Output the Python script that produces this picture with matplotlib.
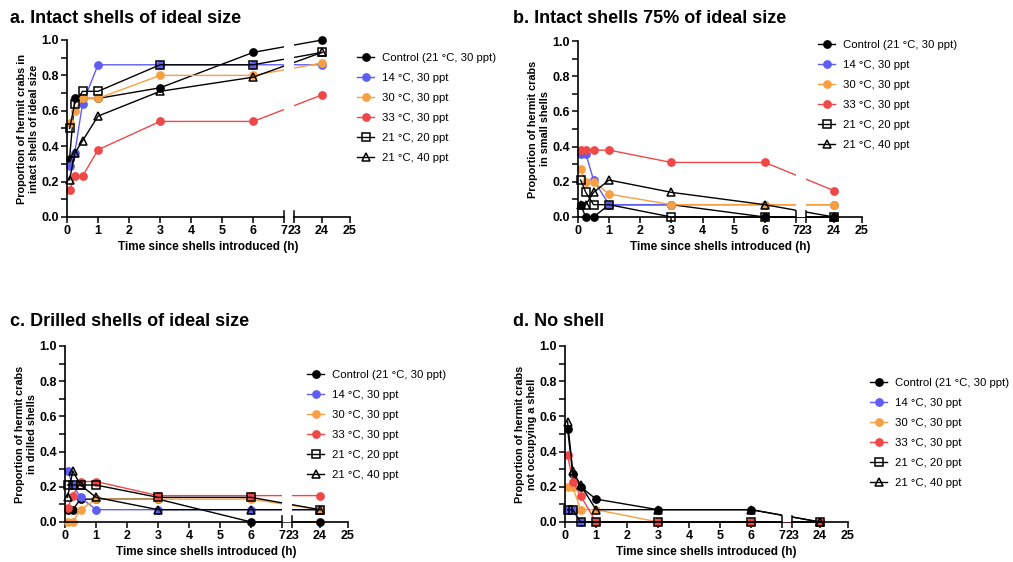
import numpy as np
import matplotlib.pyplot as plt
from matplotlib.ticker import MultipleLocator

plt.rcParams['font.family'] = ['Liberation Sans', 'DejaVu Sans']

# sampling times (h)
times = [0.083, 0.25, 0.5, 1, 3, 6, 24]

labels = ['Control (21 °C, 30 ppt)', '14 °C, 30 ppt', '30 °C, 30 ppt',
          '33 °C, 30 ppt', '21 °C, 20 ppt', '21 °C, 40 ppt']

# a. intact shells of ideal size
intact_ctrl = [0.33, 0.67, 0.67, 0.67, 0.73, 0.93, 1.00]
intact_14 = [0.29, 0.36, 0.64, 0.86, 0.86, 0.86, 0.86]
intact_30 = [0.53, 0.60, 0.67, 0.67, 0.80, 0.80, 0.87]
intact_33 = [0.15, 0.23, 0.23, 0.38, 0.54, 0.54, 0.69]
intact_20ppt = [0.50, 0.64, 0.71, 0.71, 0.86, 0.86, 0.93]
intact_40ppt = [0.21, 0.36, 0.43, 0.57, 0.71, 0.79, 0.93]

# b. intact shells 75% of ideal size
small_ctrl = [0.07, 0.00, 0.00, 0.07, 0.07, 0.00, 0.00]
small_14 = [0.36, 0.36, 0.21, 0.07, 0.07, 0.07, 0.07]
small_30 = [0.27, 0.20, 0.20, 0.13, 0.07, 0.07, 0.07]
small_33 = [0.38, 0.38, 0.38, 0.38, 0.31, 0.31, 0.15]
small_20ppt = [0.21, 0.14, 0.07, 0.07, 0.00, 0.00, 0.00]
small_40ppt = [0.07, 0.07, 0.14, 0.21, 0.14, 0.07, 0.00]

# c. drilled shells of ideal size
drilled_ctrl = [0.07, 0.07, 0.13, 0.13, 0.13, 0.00, 0.00]
drilled_14 = [0.29, 0.21, 0.14, 0.07, 0.07, 0.07, 0.07]
drilled_30 = [0.00, 0.00, 0.07, 0.13, 0.13, 0.13, 0.07]
drilled_33 = [0.08, 0.15, 0.23, 0.23, 0.15, 0.15, 0.15]
drilled_20ppt = [0.21, 0.21, 0.21, 0.21, 0.14, 0.14, 0.07]
drilled_40ppt = [0.14, 0.29, 0.21, 0.14, 0.07, 0.07, 0.07]

# d. no shell
none_ctrl = [0.53, 0.27, 0.20, 0.13, 0.07, 0.07, 0.00]
none_14 = [0.07, 0.07, 0.00, 0.00, 0.00, 0.00, 0.00]
none_30 = [0.20, 0.20, 0.07, 0.07, 0.00, 0.00, 0.00]
none_33 = [0.38, 0.23, 0.15, 0.00, 0.00, 0.00, 0.00]
none_20ppt = [0.07, 0.07, 0.00, 0.00, 0.00, 0.00, 0.00]
none_40ppt = [0.57, 0.29, 0.21, 0.07, 0.07, 0.07, 0.00]

panels = [
    ('a. Intact shells of ideal size', 'Proportion of hermit crabs in\nintact shells of ideal size',
     [intact_ctrl, intact_14, intact_30, intact_33, intact_20ppt, intact_40ppt]),
    ('b. Intact shells 75% of ideal size', 'Proportion of hermit crabs\nin small shells',
     [small_ctrl, small_14, small_30, small_33, small_20ppt, small_40ppt]),
    ('c. Drilled shells of ideal size', 'Proportion of hermit crabs\nin drilled shells',
     [drilled_ctrl, drilled_14, drilled_30, drilled_33, drilled_20ppt, drilled_40ppt]),
    ('d. No shell', 'Proportion of hermit crabs\nnot occupying a shell',
     [none_ctrl, none_14, none_30, none_33, none_20ppt, none_40ppt]),
]

colors = ['black', '#5E5EF2', '#F7A043', '#EF4848', 'black', 'black']
markers = ['o', 'o', 'o', 'o', 's', '^']
filled = [True, True, True, True, False, False]

# layout in pixels of the 1013x562 figure: (left, right, top, bottom)
ax_px = [(67, 350, 40, 217), (578, 862, 41, 217), (65, 348, 346, 522), (565, 848, 346, 522)]
title_px = [(10, 23), (513, 23), (10, 326), (513, 326)]
legend_px = [(357, 53), (818, 40), (307, 370), (870, 378)]

# broken x axis: 0-7, short gap, 23-25
gap = 0.32
k = 0.9


def fwd(x):
    x = np.asarray(x, float)
    return np.where(x <= 7, x, np.where(x < 23, 7 + (x - 7) * gap / 16, 7 + gap + (x - 23) * k))


def inv(y):
    y = np.asarray(y, float)
    return np.where(y <= 7, y, np.where(y < 7 + gap, 7 + (y - 7) * 16 / gap, 23 + (y - 7 - gap) / k))


W, H = 1013, 562
fig = plt.figure(figsize=(W / 100, H / 100), dpi=100)

for p in range(4):
    title, ylab, series = panels[p]
    l, r, t, b = ax_px[p]
    ax = fig.add_axes([l / W, 1 - b / H, (r - l) / W, (b - t) / H])
    ax.set_xscale('function', functions=(fwd, inv))

    for i in range(6):
        ax.plot(times, series[i], color=colors[i], marker=markers[i], lw=1.0,
                ms=6 if markers[i] == '^' else 5.2, mew=1.1,
                mfc=colors[i] if filled[i] else 'none', mec=colors[i],
                label=labels[i], clip_on=False, zorder=2)

    # white gap where the axis is broken
    ax.axvspan(7, 23, color='white', zorder=2.5, lw=0)

    ax.set_xlim(0, 25)
    ax.set_ylim(0, 1.0)
    ax.set_xticks([0, 1, 2, 3, 4, 5, 6, 7, 23, 24, 25])
    ax.set_xticklabels(['0', '1', '2', '3', '4', '5', '6', '7', '23', '24', '25'])
    ax.set_yticks([0, 0.2, 0.4, 0.6, 0.8, 1.0])
    ax.set_yticklabels(['0.0', '0.2', '0.4', '0.6', '0.8', '1.0'])
    ax.yaxis.set_minor_locator(MultipleLocator(0.1))
    ax.tick_params(axis='both', which='both', length=4, width=1.1, labelsize=9, pad=2)
    for lbl in ax.get_xticklabels() + ax.get_yticklabels():
        lbl.set_fontweight('bold')

    for s in ['top', 'right', 'bottom']:
        ax.spines[s].set_visible(False)
    ax.spines['left'].set_linewidth(1.2)

    # bottom axis in two pieces with break marks
    tr = ax.get_xaxis_transform()
    ax.plot([0, 7], [0, 0], color='black', lw=1.2, transform=tr, clip_on=False, zorder=3)
    ax.plot([23, 25], [0, 0], color='black', lw=1.2, transform=tr, clip_on=False, zorder=3)
    ax.plot([7, 7], [0, 0.035], color='black', lw=1.1, transform=tr, clip_on=False, zorder=3)
    ax.plot([23, 23], [0, 0.035], color='black', lw=1.1, transform=tr, clip_on=False, zorder=3)

    ax.set_xlabel('Time since shells introduced (h)', fontsize=8.5, fontweight='bold', labelpad=3)
    ax.set_ylabel(ylab, fontsize=7.8, fontweight='bold', labelpad=1.5)

    lx, ly = legend_px[p]
    ax.legend(loc='upper left', bbox_to_anchor=(lx / W, 1 - ly / H), bbox_transform=fig.transFigure,
              frameon=False, fontsize=8.2, handlelength=1.5, handletextpad=0.7,
              labelspacing=0.88, borderpad=0, borderaxespad=0)

    tx, ty = title_px[p]
    fig.text(tx / W, 1 - ty / H, title, fontsize=13, fontweight='bold', va='baseline', ha='left')

fig.savefig('out.png', dpi=100)
